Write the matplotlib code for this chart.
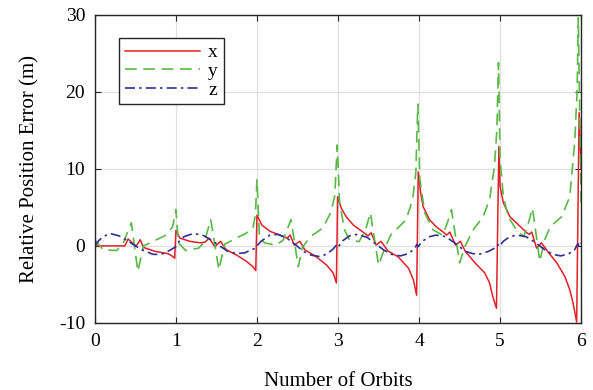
import numpy as np
import matplotlib
matplotlib.use('Agg')
import matplotlib.pyplot as plt

plt.rcParams['font.family'] = ['Liberation Serif', 'DejaVu Serif']
plt.rcParams['axes.unicode_minus'] = False

# relative position error components vs. orbit count
x_t = [0.00, 0.37, 0.41, 0.46, 0.51, 0.56, 0.60, 0.74, 0.90, 0.95, 0.985,
       1.00, 1.05, 1.17, 1.30, 1.36, 1.41, 1.48, 1.55, 1.62, 1.75, 1.87, 1.95, 1.985,
       2.00, 2.06, 2.16, 2.33, 2.37, 2.41, 2.46, 2.53, 2.59, 2.73, 2.86, 2.94, 2.98,
       2.995, 3.04, 3.10, 3.19, 3.32, 3.37, 3.41, 3.47, 3.53, 3.62, 3.74, 3.87, 3.93, 3.97,
       3.99, 4.02, 4.05, 4.13, 4.21, 4.31, 4.34, 4.38, 4.45, 4.51, 4.57, 4.69, 4.81, 4.87, 4.91, 4.955,
       4.985, 5.00, 5.04, 5.12, 5.25, 5.33, 5.36, 5.39, 5.45, 5.51, 5.60, 5.70, 5.80, 5.86, 5.90, 5.945,
       5.975, 6.00]
x_v = [0.0, 0.0, 0.9, 0.4, 0.0, 0.8, -0.2, -0.7, -1.0, -1.3, -1.6,
       2.0, 1.0, 0.6, 0.4, 0.5, 1.0, -0.1, 0.6, -0.5, -1.2, -2.0, -2.7, -3.2,
       4.0, 2.7, 1.9, 1.2, 1.0, 1.4, 0.1, 0.6, -0.5, -1.4, -2.5, -3.5, -4.8,
       6.4, 4.9, 3.8, 2.7, 1.7, 1.3, 1.7, 0.1, 0.6, -0.7, -1.4, -2.9, -4.4, -6.4,
       9.6, 6.9, 5.1, 3.4, 2.5, 1.7, 1.4, 1.8, 0.1, 0.6, -0.7, -2.2, -3.5, -4.8, -6.6, -8.1,
       12.9, 7.7, 5.6, 3.8, 2.5, 1.7, 1.5, 1.8, -0.3, 0.4, -0.9, -2.2, -4.0, -5.7, -7.4, -9.9,
       17.3, 10.0]

y_t = [0.00, 0.10, 0.27, 0.35, 0.45, 0.53, 0.60, 0.72, 0.88, 0.96, 1.00,
       1.03, 1.12, 1.28, 1.35, 1.43, 1.53, 1.60, 1.74, 1.86, 1.95, 1.98, 2.00,
       2.03, 2.09, 2.23, 2.32, 2.42, 2.51, 2.56, 2.66, 2.81, 2.91, 2.96, 2.99,
       3.02, 3.08, 3.14, 3.26, 3.34, 3.40, 3.50, 3.57, 3.65, 3.84, 3.92, 3.96, 3.985,
       4.01, 4.07, 4.17, 4.29, 4.35, 4.40, 4.50, 4.57, 4.67, 4.79, 4.87, 4.93, 4.96, 4.98,
       5.00, 5.04, 5.10, 5.20, 5.29, 5.35, 5.40, 5.49, 5.55, 5.62, 5.76, 5.86, 5.92, 5.95, 5.965,
       6.00]
y_v = [0.8, -0.5, -0.6, 0.4, 3.0, -3.3, 0.0, 0.6, 1.4, 2.5, 4.7,
       0.4, -0.6, -0.3, 0.5, 3.4, -3.1, 0.2, 1.0, 1.6, 2.3, 4.0, 8.6,
       1.2, 0.4, 0.1, 0.7, 3.4, -2.7, -0.2, 1.2, 2.3, 4.3, 6.5, 13.1,
       5.6, 2.1, 0.8, 0.55, 2.1, 4.3, -2.5, -0.5, 1.4, 3.4, 6.0, 9.5, 18.4,
       8.6, 4.3, 2.1, 1.4, 3.0, 4.7, -2.2, 0.0, 2.1, 3.8, 6.0, 10.3, 15.0, 23.8,
       11.2, 6.4, 3.8, 2.1, 1.2, 3.0, 4.9, -2.0, 0.8, 2.5, 3.8, 6.4, 13.4, 20.0, 29.6,
       5.0]

z_t = [0.00, 0.05, 0.10, 0.19, 0.30, 0.40, 0.50, 0.60, 0.72, 0.82, 0.92, 0.985,
       1.00, 1.04, 1.10, 1.21, 1.33, 1.43, 1.54, 1.64, 1.75, 1.85, 1.93, 1.985,
       2.00, 2.05, 2.16, 2.26, 2.37, 2.47, 2.57, 2.67, 2.78, 2.87, 2.94, 2.98,
       3.00, 3.05, 3.14, 3.24, 3.36, 3.46, 3.56, 3.66, 3.77, 3.87, 3.94, 3.975,
       3.99, 4.04, 4.13, 4.21, 4.33, 4.45, 4.57, 4.66, 4.74, 4.86, 4.93, 4.97,
       4.985, 5.04, 5.12, 5.21, 5.32, 5.44, 5.55, 5.65, 5.75, 5.85, 5.92, 5.96,
       5.975, 6.00]
z_v = [0.0, 0.7, 1.2, 1.6, 1.3, 0.7, 0.0, -0.6, -1.1, -1.1, -0.6, -0.2,
       -0.1, 0.6, 1.2, 1.6, 1.4, 0.8, 0.0, -0.7, -1.0, -0.9, -0.5, -0.3,
       0.0, 0.6, 1.4, 1.5, 1.0, 0.2, -0.7, -1.2, -1.4, -1.0, -0.4, 0.1,
       -0.2, 0.6, 1.3, 1.5, 1.1, 0.3, -0.5, -1.1, -1.3, -1.0, -0.4, 0.2,
       -0.1, 0.6, 1.2, 1.4, 1.2, 0.3, -0.7, -1.0, -1.1, -0.7, -0.3, 0.2,
       -0.1, 0.6, 1.2, 1.4, 1.2, 0.4, -0.5, -1.1, -1.3, -1.0, -0.5, 0.3,
       -0.1, 0.4]

fig = plt.figure(figsize=(5.93, 3.90), dpi=100)
ax = fig.add_axes([0.160, 0.172, 0.820, 0.790])

ax.plot(x_t, x_v, color='#e41f26', lw=1.1, label='x')
ax.plot(y_t, y_v, color='#5ab946', lw=1.2, linestyle=(0, (7, 4)), label='y')
ax.plot(z_t, z_v, color='#2e3192', lw=1.2, linestyle=(0, (6, 2.5, 1.5, 2.5)), label='z')

ax.set_xlim(0, 6)
ax.set_ylim(-10, 30)
ax.set_xticks(range(0, 7))
ax.set_yticks([-10, 0, 10, 20, 30])
ax.grid(True, color='#e0e0e0', lw=0.9)
ax.set_axisbelow(True)
ax.tick_params(direction='in', top=True, right=True, length=4, labelsize=14,
               color='#262626', pad=7)
for s in ax.spines.values():
    s.set_color('#262626')
    s.set_linewidth(1.0)

ax.set_xlabel('Number of Orbits', fontsize=15, labelpad=16)
ax.set_ylabel('Relative Position Error (m)', fontsize=15, labelpad=14)

leg = ax.legend(loc='upper left', bbox_to_anchor=(0.049, 0.925), fontsize=14,
                handlelength=3.9, handletextpad=0.4, borderpad=0.3, labelspacing=0.05,
                fancybox=False, framealpha=1, borderaxespad=0)
leg.get_frame().set_edgecolor('#262626')
leg.get_frame().set_linewidth(1.0)

fig.savefig('out.png', dpi=100)
